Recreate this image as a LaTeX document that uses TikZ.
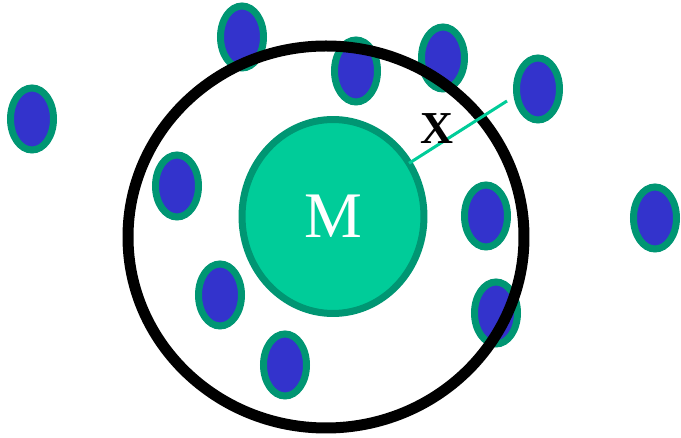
\documentclass[tikz,border=0pt]{standalone}
\usepackage{fontspec}
\setmainfont{Liberation Serif}
\usetikzlibrary{positioning,shapes.geometric}
\definecolor{cellblue}{HTML}{3333CC}
\definecolor{rimgreen}{HTML}{009673}
\definecolor{massgreen}{HTML}{00CC99}

\begin{document}
\begin{tikzpicture}[x=0.02cm,y=-0.02cm]
  \useasboundingbox (0,0) rectangle (681,438);
  \tikzset{cell/.style={draw=rimgreen,fill=cellblue,line width=0.14cm}}

  % small particles
  \foreach \px/\py in {32/119,242/37,356/71,443/58,538/89,177/186,
                       486/216,655/218,220/295,496/313,285/365}
    \draw[cell] (\px,\py) ellipse [x radius=21.5,y radius=-31];

  % boundary
  \draw[line width=0.22cm] (326,237) ellipse [x radius=198,y radius=-191];

  % central mass
  \node[ellipse,draw=rimgreen,fill=massgreen,line width=0.14cm,
        minimum width=3.64cm,minimum height=3.88cm,inner sep=0pt,outer sep=0pt,
        text=white,font=\fontsize{37}{40}\selectfont] (mass) at (333,216.5) {M};

  \coordinate (xend) at (507,101);
  \draw[massgreen,line width=0.06cm] (mass.35) -- (xend);
  \node[font=\fontsize{26}{30}\selectfont\bfseries] (xlab) at (437,129) {X};
\end{tikzpicture}
\end{document}
